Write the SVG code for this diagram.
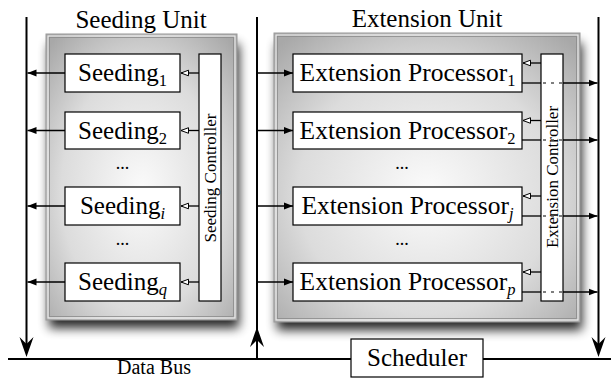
<svg xmlns="http://www.w3.org/2000/svg" width="611" height="378" viewBox="0 0 611 378">
<style>
.t{font-family:"Liberation Serif","Times New Roman",serif;fill:#000}
.lbl{font-size:25px;text-anchor:middle}
.ep{font-size:25.5px}
.sub{font-size:16.5px}
.ctl{font-size:17px;text-anchor:middle}
.dots{font-size:18px;text-anchor:middle}
.box{fill:#fff;stroke:#000;stroke-width:1.2}
.ln{stroke:#000;stroke-width:1.3;fill:none}
.bus{stroke:#000;stroke-width:2;fill:none}
.dot{stroke:#555;stroke-width:1.3;stroke-dasharray:3,5;fill:none}
</style>
<defs>
<radialGradient id="g" cx="50%" cy="55%" r="70%">
<stop offset="0" stop-color="#fbfbfb"/>
<stop offset="0.6" stop-color="#dcdcdc"/>
<stop offset="1" stop-color="#a8a8a8"/>
</radialGradient>
<filter id="sh" x="-20%" y="-20%" width="140%" height="140%">
<feGaussianBlur stdDeviation="5.5"/>
</filter>
<marker id="fa" markerUnits="userSpaceOnUse" markerWidth="10" markerHeight="8" refX="9" refY="4" orient="auto">
<path d="M0,0.5 L9,4 L0,7.5 z" fill="#000"/>
</marker>
<marker id="oa" markerUnits="userSpaceOnUse" markerWidth="10" markerHeight="8" refX="8.5" refY="4" orient="auto">
<path d="M1,1.2 L8.5,4 L1,6.8 z" fill="#fff" stroke="#000" stroke-width="1"/>
</marker>
<path id="big" d="M0,0 L-7,-20 L0,-13 L7,-20 z" fill="#000"/>
</defs>

<g id="seeding-unit">
<rect x="49" y="44" width="190" height="284" fill="#000" opacity="0.85" filter="url(#sh)"/>
<rect x="46" y="34" width="191" height="286" fill="url(#g)" stroke="#9a9a9a" stroke-width="1"/>
<rect x="48" y="36" width="187" height="282" fill="none" stroke="#f2f2f2" stroke-width="1"/>
<rect x="49.5" y="37.5" width="184" height="279" fill="none" stroke="#8a8a8a" stroke-width="0.8"/>
<text class="t lbl" x="141" y="28">Seeding Unit</text>
</g>

<g id="extension-unit">
<rect x="277" y="43" width="305" height="287" fill="#000" opacity="0.85" filter="url(#sh)"/>
<rect x="274" y="33" width="306" height="289" fill="url(#g)" stroke="#9a9a9a" stroke-width="1"/>
<rect x="276" y="35" width="302" height="285" fill="none" stroke="#f2f2f2" stroke-width="1"/>
<rect x="277.5" y="36.5" width="299" height="282" fill="none" stroke="#8a8a8a" stroke-width="0.8"/>
<text class="t lbl" x="427" y="27">Extension Unit</text>
</g>

<g id="connectors">
<line class="bus" x1="8" y1="359" x2="611" y2="359"/>
<line class="bus" x1="26.5" y1="17" x2="26.5" y2="350"/>
<use href="#big" x="26.5" y="357"/>
<line class="bus" x1="598.5" y1="17" x2="598.5" y2="350"/>
<use href="#big" x="598.5" y="357"/>
<line class="bus" x1="257" y1="17" x2="257" y2="359"/>
<use href="#big" transform="translate(257,327) rotate(180)"/>
<line class="ln" x1="65" y1="73" x2="27.5" y2="73" marker-end="url(#fa)"/>
<line class="ln" x1="65" y1="130.5" x2="27.5" y2="130.5" marker-end="url(#fa)"/>
<line class="ln" x1="65" y1="206" x2="27.5" y2="206" marker-end="url(#fa)"/>
<line class="ln" x1="65" y1="282" x2="27.5" y2="282" marker-end="url(#fa)"/>
<line class="ln" x1="199" y1="73" x2="181" y2="73" marker-end="url(#oa)"/>
<line class="ln" x1="199" y1="130.5" x2="181" y2="130.5" marker-end="url(#oa)"/>
<line class="ln" x1="199" y1="206" x2="181" y2="206" marker-end="url(#oa)"/>
<line class="ln" x1="199" y1="282" x2="181" y2="282" marker-end="url(#oa)"/>
<line class="ln" x1="258" y1="73" x2="293" y2="73" marker-end="url(#fa)"/>
<line class="ln" x1="258" y1="130.5" x2="293" y2="130.5" marker-end="url(#fa)"/>
<line class="ln" x1="258" y1="206" x2="293" y2="206" marker-end="url(#fa)"/>
<line class="ln" x1="258" y1="282" x2="293" y2="282" marker-end="url(#fa)"/>
<line class="ln" x1="541" y1="63" x2="523" y2="63" marker-end="url(#oa)"/>
<line class="ln" x1="541" y1="120.5" x2="523" y2="120.5" marker-end="url(#oa)"/>
<line class="ln" x1="541" y1="196" x2="523" y2="196" marker-end="url(#oa)"/>
<line class="ln" x1="541" y1="272" x2="523" y2="272" marker-end="url(#oa)"/>
<line class="ln" x1="522" y1="83" x2="541" y2="83"/>
<line class="ln" x1="563" y1="83" x2="597.5" y2="83" marker-end="url(#fa)"/>
<line class="ln" x1="522" y1="140" x2="541" y2="140"/>
<line class="ln" x1="563" y1="140" x2="597.5" y2="140" marker-end="url(#fa)"/>
<line class="ln" x1="522" y1="216" x2="541" y2="216"/>
<line class="ln" x1="563" y1="216" x2="597.5" y2="216" marker-end="url(#fa)"/>
<line class="ln" x1="522" y1="292" x2="541" y2="292"/>
<line class="ln" x1="563" y1="292" x2="597.5" y2="292" marker-end="url(#fa)"/>
</g>

<g id="seeding-1"><rect class="box" x="65" y="54" width="115" height="38"/><text class="t lbl" x="122.5" y="81">Seeding<tspan class="sub" dy="5">1</tspan></text></g>
<g id="seeding-2"><rect class="box" x="65" y="112" width="115" height="37"/><text class="t lbl" x="122.5" y="139">Seeding<tspan class="sub" dy="5">2</tspan></text></g>
<g id="seeding-i"><rect class="box" x="65" y="187" width="115" height="38"/><text class="t lbl" x="122.5" y="214">Seeding<tspan class="sub" dy="5" font-style="italic">i</tspan></text></g>
<g id="seeding-q"><rect class="box" x="65" y="263" width="115" height="38"/><text class="t lbl" x="122.5" y="290">Seeding<tspan class="sub" dy="5" font-style="italic">q</tspan></text></g>
<text class="t dots" x="122.5" y="169">...</text>
<text class="t dots" x="122.5" y="245">...</text>

<g id="seeding-controller"><rect class="box" x="199" y="54" width="22" height="247"/><text class="t ctl" transform="translate(216,178) rotate(-90)">Seeding Controller</text></g>

<g id="ext-1"><rect class="box" x="293" y="54" width="229" height="38"/><text class="t lbl ep" x="407.5" y="81">Extension Processor<tspan class="sub" dy="5">1</tspan></text></g>
<g id="ext-2"><rect class="box" x="293" y="112" width="229" height="37"/><text class="t lbl ep" x="407.5" y="139">Extension Processor<tspan class="sub" dy="5">2</tspan></text></g>
<g id="ext-j"><rect class="box" x="293" y="187" width="229" height="38"/><text class="t lbl ep" x="407.5" y="214">Extension Processor<tspan class="sub" dy="5" font-style="italic">j</tspan></text></g>
<g id="ext-p"><rect class="box" x="293" y="263" width="229" height="38"/><text class="t lbl ep" x="407.5" y="290">Extension Processor<tspan class="sub" dy="5" font-style="italic">p</tspan></text></g>
<text class="t dots" x="402" y="169">...</text>
<text class="t dots" x="402" y="245">...</text>

<g id="extension-controller"><rect class="box" x="541" y="54" width="22" height="247"/><text class="t ctl" transform="translate(558,177) rotate(-90)">Extension Controller</text>
<line class="dot" x1="543" y1="83" x2="563" y2="83"/>
<line class="dot" x1="543" y1="140" x2="563" y2="140"/>
<line class="dot" x1="543" y1="216" x2="563" y2="216"/>
<line class="dot" x1="543" y1="292" x2="563" y2="292"/>
</g>

<g id="scheduler"><rect class="box" x="351" y="339" width="132" height="38"/><text class="t lbl" x="417" y="366">Scheduler</text></g>
<g id="data-bus"><text class="t" x="154" y="374" font-size="20" text-anchor="middle">Data Bus</text></g>
</svg>
